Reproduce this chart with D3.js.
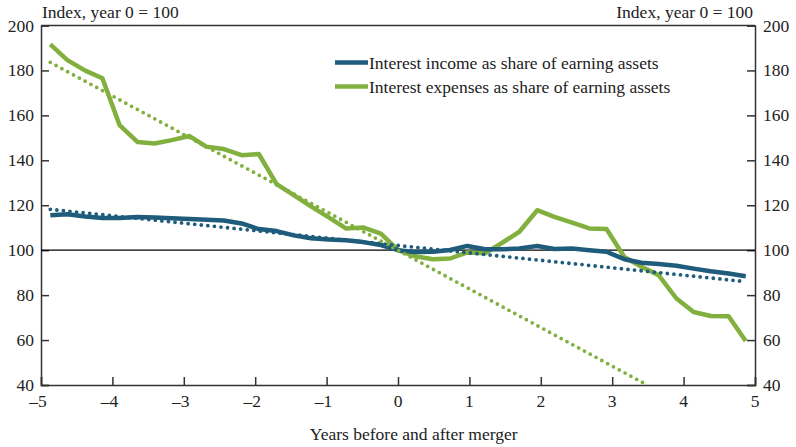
<!DOCTYPE html>
<html>
<head>
<meta charset="utf-8">
<script src="https://cdn.jsdelivr.net/npm/d3@7"></script>
<style>
  body { margin: 0; background: #fff; }
  svg text { font-family: "Liberation Serif", "DejaVu Serif", serif; fill: #222; }
</style>
</head>
<body>
<svg id="chart" width="796" height="447"></svg>
<script>
"use strict";

// quarters before / after the merger, in years as they sit on the chart
var years = [-4.87, -4.63, -4.38, -4.14, -3.90, -3.65, -3.41, -3.17, -2.92, -2.68,
  -2.44, -2.19, -1.95, -1.70, -1.46, -1.22, -0.97, -0.73, -0.49, -0.24,
  0, 0.24, 0.49, 0.73, 0.97, 1.22, 1.46, 1.70, 1.95, 2.19,
  2.44, 2.68, 2.92, 3.17, 3.41, 3.65, 3.90, 4.14, 4.38, 4.63, 4.87];

var income = [115.5, 116, 115, 114.3, 114.3, 114.8, 114.5, 114.2, 113.9, 113.6,
  113.2, 111.9, 109.4, 108.5, 106.6, 105.3, 104.8, 104.4, 103.6, 102.3,
  100, 99.2, 99.3, 100.1, 101.9, 100.4, 100.4, 100.8, 101.9, 100.5,
  100.8, 100, 99.3, 96, 94.4, 93.8, 93.1, 91.8, 90.6, 89.6, 88.4];

var expenses = [191.6, 184.6, 179.9, 176.5, 155.7, 148.2, 147.5, 149, 150.8, 146,
  145, 142.3, 142.8, 129.4, 124.5, 119.5, 114.6, 109.7, 110.1, 107.4,
  100, 97.3, 96, 96.3, 99, 98.6, 103.3, 108.2, 117.8, 114.8,
  112.3, 109.7, 109.4, 97, 92.6, 88.9, 78.5, 72.5, 70.7, 70.6, 59.6];

// straight trend lines: [year, index] at each end
var incomeTrend = [[-4.87, 118.2], [4.87, 86]];
var expensesTrend = [[-4.87, 183.6], [3.49, 40]];

var xTicks = [-5, -4, -3, -2, -1, 0, 1, 2, 3, 4, 5];
var yTicks = [40, 60, 80, 100, 120, 140, 160, 180, 200];
var legendLabels = ["Interest income as share of earning assets",
  "Interest expenses as share of earning assets"];

var blue = "#1f5c7c", green = "#82b03f";

var Draw = (function() {
  var svg = d3.select("#chart");
  var left = 41, right = 755, top = 25.5, bottom = 385,
      fs = 17.5;

  var x = d3.scaleLinear().domain([-5, 5]).range([left, right]);
  var y = d3.scaleLinear().domain([40, 200]).range([bottom, top]);

  var fmt = d => d < 0 ? "\u2013" + Math.abs(d) : String(d);

  // axes, ticks point into the plot
  var axL = svg.append("g").attr("transform", "translate(" + left + ",0)")
    .call(d3.axisRight(y).tickValues(yTicks).tickSize(8).tickFormat(""));
  var axR = svg.append("g").attr("transform", "translate(" + right + ",0)")
    .call(d3.axisLeft(y).tickValues(yTicks).tickSize(8).tickFormat(""));
  var axB = svg.append("g").attr("transform", "translate(0," + bottom + ")")
    .call(d3.axisTop(x).tickValues(xTicks).tickSize(8).tickFormat(""));
  [axL, axR, axB].forEach(a => {
    a.select(".domain").attr("stroke", "#333").attr("stroke-width", 1.5);
    a.selectAll(".tick line").attr("stroke", "#333").attr("stroke-width", 1.5);
  });
  // top frame
  svg.append("line")
    .attr("x1", left).attr("x2", right).attr("y1", top).attr("y2", top)
    .attr("stroke", "#333").attr("stroke-width", 1.5);

  // tick labels
  svg.append("g").selectAll("text").data(yTicks).join("text")
    .attr("x", left - 7).attr("y", d => y(d) + 6)
    .attr("text-anchor", "end").attr("font-size", fs).text(d => d);
  svg.append("g").selectAll("text").data(yTicks).join("text")
    .attr("x", right + 8).attr("y", d => y(d) + 6)
    .attr("font-size", fs).text(d => d);
  svg.append("g").selectAll("text").data(xTicks).join("text")
    .attr("x", d => x(d) - (d < 0 ? 3 : 0)).attr("y", bottom + 22)
    .attr("text-anchor", "middle").attr("font-size", fs).text(fmt);

  svg.append("text").attr("x", left + 1).attr("y", 17.5)
    .attr("font-size", fs).text("Index, year 0 = 100");
  svg.append("text").attr("x", right - 2).attr("y", 17.5)
    .attr("text-anchor", "end").attr("font-size", fs).text("Index, year 0 = 100");
  svg.append("text").attr("x", x(0.22)).attr("y", 440)
    .attr("text-anchor", "middle").attr("font-size", fs).text("Years before and after merger");

  // reference line at 100
  svg.append("line")
    .attr("x1", left).attr("x2", right).attr("y1", y(100)).attr("y2", y(100))
    .attr("stroke", "#000").attr("stroke-width", 1.2);

  var line = d3.line().x(d => x(d[0])).y(d => y(d[1]));
  var zipped = vals => years.map((t, i) => [t, vals[i]]);

  svg.append("path").datum(zipped(expenses))
    .attr("d", line).attr("fill", "none").attr("stroke", green)
    .attr("stroke-width", 4.5).attr("stroke-linejoin", "round");
  svg.append("path").datum(zipped(income))
    .attr("d", line).attr("fill", "none").attr("stroke", blue)
    .attr("stroke-width", 4.5).attr("stroke-linejoin", "round");

  // dotted trends
  [[expensesTrend, green], [incomeTrend, blue]].forEach(p => {
    svg.append("path").datum(p[0])
      .attr("d", line).attr("fill", "none").attr("stroke", p[1])
      .attr("stroke-width", 3.8).attr("stroke-linecap", "round")
      .attr("stroke-dasharray", "0 6.6");
  });

  // legend
  var lg = svg.append("g").attr("transform", "translate(335,62.5)");
  [blue, green].forEach((c, i) => {
    lg.append("line").attr("x1", 0).attr("x2", 33)
      .attr("y1", i * 24).attr("y2", i * 24)
      .attr("stroke", c).attr("stroke-width", 4.5);
    lg.append("text").attr("x", 34).attr("y", i * 24 + 6)
      .attr("font-size", fs).text(legendLabels[i]);
  });
});

Draw();
</script>
</body>
</html>
